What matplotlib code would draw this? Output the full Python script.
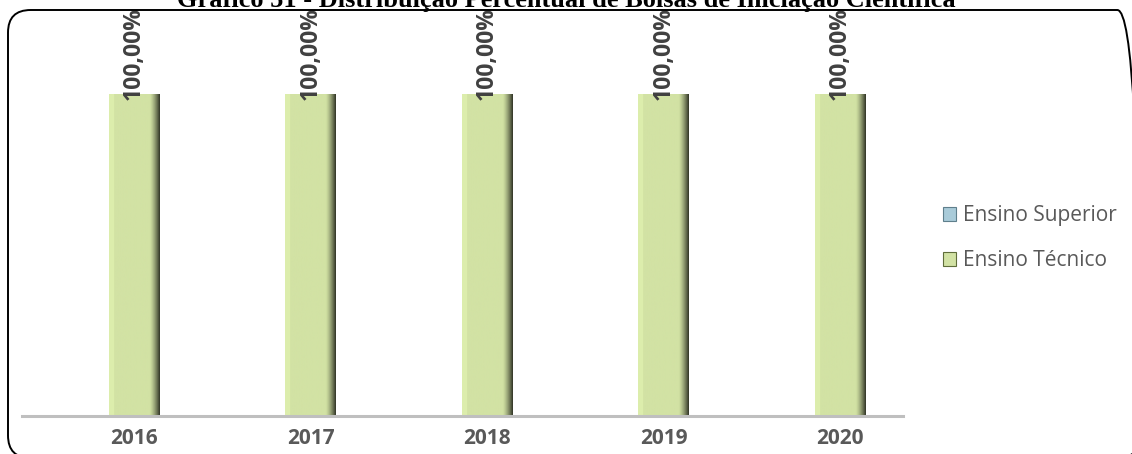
import numpy as np
import matplotlib
matplotlib.use("Agg")
import matplotlib.pyplot as plt
from matplotlib.patches import FancyBboxPatch, Patch
from matplotlib.colors import to_rgb

# -------- Data -------- #
anos = ["2016", "2017", "2018", "2019", "2020"]
ensino_tecnico = [1.0, 1.0, 1.0, 1.0, 1.0]
ensino_superior = [0.0, 0.0, 0.0, 0.0, 0.0]
rotulos = ["100,00%", "100,00%", "100,00%", "100,00%", "100,00%"]

titulo = "Gráfico 51 - Distribuição Percentual de Bolsas de Iniciação Científica"

verde = "#d2e2a4"
azul = "#a9cbd9"
cinza_txt = "#595959"

plt.rcParams["font.family"] = ["Open Sans", "DejaVu Sans"]

W, H = 1132, 454
fig = plt.figure(figsize=(W / 100, H / 100), dpi=100)
ax = fig.add_axes([22 / W, 1 - 416 / H, 881 / W, (416 - 94) / H])

x = np.arange(len(anos))
largura = 0.285


def bar_gradient(bar, base):
    # horizontal shading to fake the bevel look
    r, g, b = to_rgb(base)
    cols = np.linspace(0, 1, 80)
    shade = np.ones_like(cols)
    shade[cols < 0.1] = 1.05
    shade = np.where(cols > 0.8, 1 - 0.75 * ((cols - 0.8) / 0.2) ** 1.4, shade)
    img = np.zeros((1, 80, 3))
    img[0, :, 0] = np.clip(r * shade, 0, 1)
    img[0, :, 1] = np.clip(g * shade, 0, 1)
    img[0, :, 2] = np.clip(b * shade, 0, 1)
    x0, y0 = bar.get_x(), bar.get_y()
    w, h = bar.get_width(), bar.get_height()
    im = ax.imshow(img, extent=[x0, x0 + w, y0, y0 + h], aspect="auto", zorder=2)
    im.set_clip_path(bar)


bars = ax.bar(x, ensino_tecnico, largura, color=verde, zorder=2, label="Ensino Técnico")
ax.bar(x, ensino_superior, largura, bottom=ensino_tecnico, color=azul, zorder=2,
       label="Ensino Superior")
for b in bars:
    bar_gradient(b, verde)

for xi, v, lab in zip(x, ensino_tecnico, rotulos):
    ax.text(xi, v - 0.02, lab, rotation=90, ha="center", va="bottom", fontsize=16.5,
            fontweight="bold", color="#404040", clip_on=False, zorder=5)

# bars sit right of the slot centre, as in the original clustered layout
ax.set_xlim(-0.635, 4.357)
ax.set_ylim(0, 1)
ax.set_yticks([])
ax.set_xticks(x)
ax.set_xticklabels(anos, fontsize=15, fontweight="bold", color=cinza_txt)
ax.tick_params(axis="x", length=0, pad=9)
for s in ["top", "left", "right"]:
    ax.spines[s].set_visible(False)
ax.spines["bottom"].set_color("#bfbfbf")
ax.spines["bottom"].set_linewidth(2.2)
ax.patch.set_alpha(0)

# legend
handles = [Patch(facecolor=azul, edgecolor="#5f7f8c", lw=0.8, label="Ensino Superior"),
           Patch(facecolor=verde, edgecolor="#5f6d3a", lw=0.8, label="Ensino Técnico")]
fig.legend(handles=handles, loc="center left", bbox_to_anchor=(924 / W, 1 - 238 / H),
           frameon=False, fontsize=15, handlelength=0.65, handleheight=0.65,
           handletextpad=0.3, labelspacing=1.15, labelcolor=cinza_txt)

# border (runs past the right and bottom edges in the original)
borda = FancyBboxPatch((8 / W, -4 / H), 1132 / W, 448 / H,
                       boxstyle="round,pad=0,rounding_size=0.02",
                       transform=fig.transFigure, fill=False, ec="black", lw=1.4,
                       mutation_aspect=W / H, clip_on=False)
fig.patches.append(borda)

fig.text(0.5, 1 - 7 / H, titulo, ha="center", va="baseline", fontsize=19,
         fontweight="bold", family="Liberation Serif", color="black")

fig.savefig("out.png", dpi=100)
